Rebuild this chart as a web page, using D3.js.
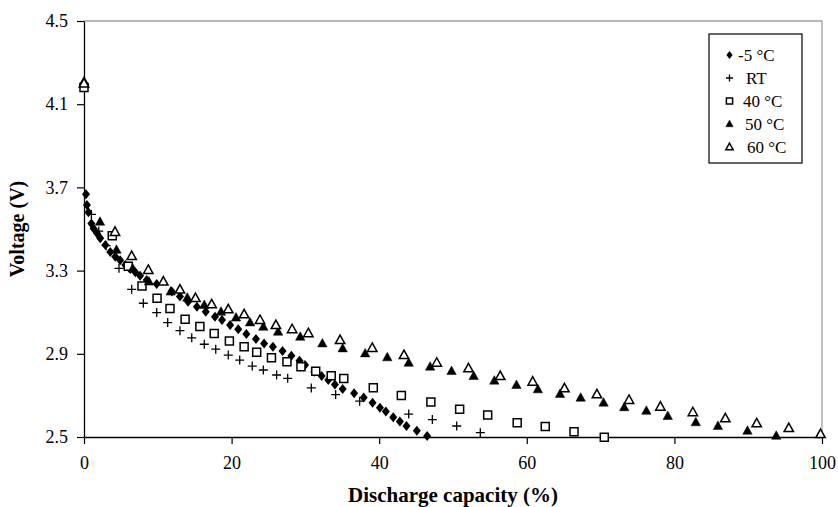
<!DOCTYPE html>
<html lang="en">
<head>
  <meta charset="UTF-8">
  <script src="https://cdn.jsdelivr.net/npm/d3@7/dist/d3.min.js"></script>
  <title>Discharge curves</title>
  <style>
    body { margin: 0; background: #fff; }
    text { font-family: "Liberation Serif", "Times New Roman", serif; fill: #000; }
  </style>
</head>
<body>
  <svg width="838" height="507"></svg>
  <script>
    // series data: discharge capacity (%) and voltage (V)
    var seriesNames = ["-5 °C", "RT", "40 °C", "50 °C", "60 °C"];

    var capM5 = [0, 0.27, 0.4, 0.6, 1.0, 1.3, 1.76, 2.2, 2.9, 3.56, 4.24, 4.9, 5.6, 6.27, 6.95, 7.6, 8.5, 9.85,
      11.9, 13.0, 14.1, 15.3, 16.5, 17.75, 18.7, 19.8, 20.9, 22.0, 23.3, 24.4, 25.6, 26.9, 28.1, 29.2, 29.95,
      31.2, 32.2, 33.1, 34.0, 35.05, 36.6, 37.9, 39.1, 40.1, 40.9, 41.9, 42.8, 43.7, 45.1, 46.5];
    var voltM5 = [4.2, 3.667, 3.615, 3.58, 3.527, 3.503, 3.479, 3.455, 3.423, 3.39, 3.367, 3.35, 3.327, 3.308, 3.292, 3.275, 3.255, 3.236,
      3.199, 3.175, 3.15, 3.126, 3.102, 3.078, 3.062, 3.038, 3.018, 2.995, 2.971, 2.95, 2.934, 2.913, 2.891, 2.867, 2.846,
      2.814, 2.793, 2.774, 2.753, 2.731, 2.71, 2.69, 2.665, 2.641, 2.622, 2.595, 2.574, 2.553, 2.53, 2.505];

    var capRT = [0, 1.0, 2.0, 3.0, 4.74, 6.46, 8.04, 9.85, 11.34, 13.0, 14.6, 16.3, 17.85, 19.55, 21.1, 22.8, 24.3, 26.1,
      27.6, 30.8, 34.1, 37.35, 44.0, 47.2, 50.5, 53.7];
    var voltRT = [4.19, 3.57, 3.49, 3.42, 3.311, 3.21, 3.143, 3.098, 3.05, 3.011, 2.977, 2.946, 2.922, 2.894, 2.87, 2.841, 2.822, 2.798,
      2.782, 2.736, 2.704, 2.672, 2.61, 2.584, 2.553, 2.521];

    var cap40 = [0, 3.83, 6.0, 7.86, 9.9, 11.65, 13.7, 15.7, 17.64, 19.7, 21.7, 23.4, 25.4, 27.5, 29.4, 31.4, 33.5, 35.2,
      39.2, 43.0, 47.0, 50.9, 54.7, 58.7, 62.5, 66.4, 70.5];
    var volt40 = [4.18, 3.468, 3.321, 3.226, 3.167, 3.118, 3.066, 3.031, 2.997, 2.962, 2.934, 2.907, 2.881, 2.862, 2.838, 2.816, 2.794, 2.781,
      2.737, 2.70, 2.668, 2.633, 2.606, 2.569, 2.55, 2.525, 2.499];

    var cap50 = [0, 2.17, 4.4, 6.6, 8.8, 11.75, 14.0, 16.3, 18.56, 20.6, 22.5, 24.3, 26.3, 29.3, 32.3, 35.05, 38.1, 41.1,
      44.0, 46.9, 49.8, 52.8, 55.6, 58.6, 61.5, 64.5, 67.3, 70.4, 73.2, 76.2, 79.1, 82.9, 85.9, 89.9, 93.8];
    var volt50 = [4.21, 3.535, 3.40, 3.31, 3.247, 3.199, 3.17, 3.135, 3.102, 3.074, 3.051, 3.03, 3.006, 2.982, 2.95, 2.926, 2.902, 2.883,
      2.857, 2.838, 2.817, 2.793, 2.771, 2.75, 2.729, 2.707, 2.689, 2.665, 2.643, 2.626, 2.601, 2.571, 2.553, 2.53, 2.506];

    var cap60 = [0, 4.2, 6.46, 8.71, 10.75, 13.0, 15.1, 17.3, 19.55, 21.7, 23.85, 26.0, 28.2, 30.4, 34.7, 39.06, 43.36,
      47.8, 52.1, 56.4, 60.8, 65.1, 69.5, 73.85, 78.1, 82.5, 86.9, 91.15, 95.5, 99.8];
    var volt60 = [4.2, 3.486, 3.37, 3.303, 3.247, 3.209, 3.168, 3.138, 3.114, 3.09, 3.0625, 3.038, 3.018, 2.999, 2.966, 2.928, 2.894,
      2.857, 2.83, 2.793, 2.766, 2.734, 2.705, 2.678, 2.646, 2.619, 2.59, 2.566, 2.543, 2.514];

    var xTicks = [0, 20, 40, 60, 80, 100];
    var yTicks = [2.5, 2.9, 3.3, 3.7, 4.1, 4.5];

    var svg = d3.select("svg");
    var plot = { left: 84, right: 822, top: 21, bottom: 437 };

    var x = d3.scaleLinear().domain([0, 100]).range([plot.left, plot.right]);
    var y = d3.scaleLinear().domain([2.5, 4.5]).range([plot.bottom, plot.top]);

    // plot area frame (grey top and right)
    svg.append("path")
      .attr("d", `M${plot.left},${plot.top}H${plot.right}V${plot.bottom}`)
      .attr("fill", "none")
      .attr("stroke", "#a0a0a0")
      .attr("stroke-width", 1.3);

    var xAxis = svg.append("g")
      .attr("transform", `translate(0,${plot.bottom})`)
      .call(d3.axisBottom(x).tickValues(xTicks).tickSize(7).tickPadding(12).tickSizeOuter(0));
    var yAxis = svg.append("g")
      .attr("transform", `translate(${plot.left},0)`)
      .call(d3.axisLeft(y).tickValues(yTicks).tickFormat(d3.format(".1f")).tickSize(7).tickPadding(9).tickSizeOuter(0));

    [xAxis, yAxis].forEach(function (a) {
      a.select(".domain").attr("stroke", "#000").attr("stroke-width", 1.3);
      a.selectAll(".tick line").attr("stroke", "#000").attr("stroke-width", 1.2);
      a.selectAll(".tick text")
        .style("font-family", '"Liberation Serif", serif')
        .style("font-size", "18px");
    });

    // marker shapes (plot size and smaller legend size)
    var shapes = {
      diamond: "M0,-5L4,0L0,5L-4,0Z",
      plus: "M-4.5,0H4.5M0,-4.5V4.5",
      square: "M-4,-4H4V4H-4Z",
      triangle: "M0,-5L4.7,3.5H-4.7Z"
    };
    var markerStyle = [
      { d: shapes.diamond, fill: "#000", stroke: "none", sw: 0 },
      { d: shapes.plus, fill: "none", stroke: "#000", sw: 1.3 },
      { d: shapes.square, fill: "#fff", stroke: "#000", sw: 1.5 },
      { d: shapes.triangle, fill: "#000", stroke: "#000", sw: 0.5 },
      { d: shapes.triangle, fill: "#fff", stroke: "#000", sw: 1.5 }
    ];

    var allSeries = [
      d3.zip(capM5, voltM5),
      d3.zip(capRT, voltRT),
      d3.zip(cap40, volt40),
      d3.zip(cap50, volt50),
      d3.zip(cap60, volt60)
    ];

    allSeries.forEach(function (pts, i) {
      var st = markerStyle[i];
      svg.append("g").selectAll("path")
        .data(pts)
        .enter()
        .append("path")
        .attr("transform", d => `translate(${x(d[0])},${y(d[1])})`)
        .attr("d", st.d)
        .attr("fill", st.fill)
        .attr("stroke", st.stroke)
        .attr("stroke-width", st.sw);
    });

    // legend
    var legendTextX = [29, 37, 34, 36, 38];
    var legend = svg.append("g").attr("transform", "translate(709,34)");
    legend.append("rect")
      .attr("width", 93).attr("height", 129)
      .attr("fill", "#fff").attr("stroke", "#000").attr("stroke-width", 1.2);
    seriesNames.forEach(function (name, i) {
      var st = markerStyle[i];
      var row = legend.append("g").attr("transform", `translate(0,${21 + i * 23})`);
      row.append("path")
        .attr("transform", "translate(20.5,0) scale(0.78)")
        .attr("d", st.d)
        .attr("fill", st.fill)
        .attr("stroke", st.stroke)
        .attr("stroke-width", st.sw / 0.78);
      row.append("text")
        .attr("x", legendTextX[i]).attr("dy", "0.35em")
        .style("font-size", "17px")
        .text(name);
    });

    // axis titles
    svg.append("text")
      .attr("x", (plot.left + plot.right) / 2).attr("y", 502)
      .attr("text-anchor", "middle")
      .style("font-size", "21px").style("font-weight", "bold")
      .text("Discharge capacity (%)");
    svg.append("text")
      .attr("transform", `translate(24,${(plot.top + plot.bottom) / 2}) rotate(-90)`)
      .attr("text-anchor", "middle")
      .style("font-size", "20px").style("font-weight", "bold")
      .text("Voltage (V)");
  </script>
</body>
</html>
